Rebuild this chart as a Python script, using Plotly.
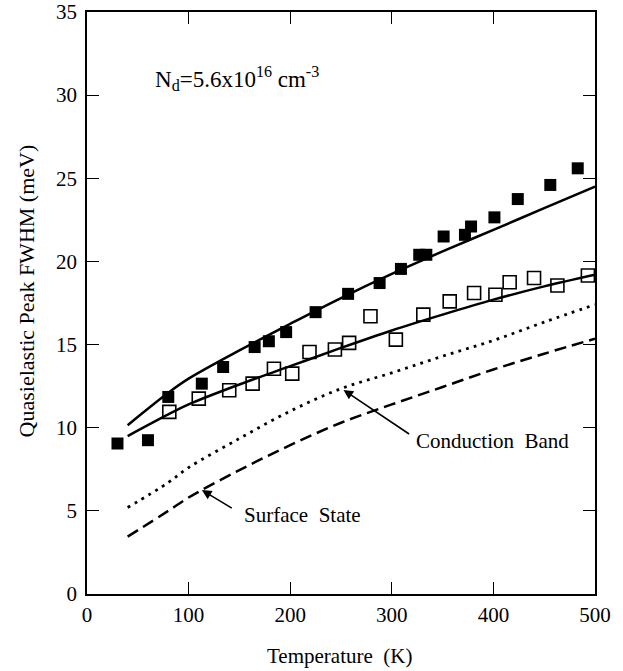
import plotly.graph_objects as go

# Measured quasielastic peak widths
t_filled = [30, 60, 80, 113, 134, 165, 179, 196, 225, 257, 288, 309, 327, 334, 351,
            372, 378, 401, 424, 456, 483]
w_filled = [9.05, 9.25, 11.85, 12.65, 13.65, 14.85, 15.2, 15.75, 16.95, 18.05, 18.7,
            19.55, 20.4, 20.4, 21.5, 21.6, 22.1, 22.65, 23.75, 24.6, 25.6]

t_open = [81, 110, 140, 163, 184, 202, 219, 244, 258, 279, 304, 331, 357, 381, 402,
          416, 440, 463, 493]
w_open = [10.95, 11.75, 12.25, 12.65, 13.55, 13.25, 14.55, 14.7, 15.1, 16.7, 15.3,
          16.8, 17.6, 18.1, 18.0, 18.75, 19.0, 18.55, 19.15]

# Model curves
t_curve = [40, 80, 100, 150, 200, 250, 300, 350, 400, 450, 500]
w_upper = [10.15, 12.1, 12.95, 14.65, 16.25, 17.8, 19.25, 20.6, 21.9, 23.2, 24.5]
w_lower = [9.5, 10.8, 11.4, 12.6, 13.7, 14.8, 15.85, 16.8, 17.7, 18.5, 19.2]
w_cond = [5.2, 6.7, 7.6, 9.35, 11.0, 12.35, 13.3, 14.3, 15.25, 16.35, 17.4]
w_surf = [3.45, 5.0, 5.8, 7.45, 8.95, 10.3, 11.4, 12.45, 13.5, 14.45, 15.35]

x_ticks = [0, 100, 200, 300, 400, 500]
y_ticks = [0, 5, 10, 15, 20, 25, 30, 35]

serif = "Liberation Serif"
tick_font = dict(family=serif, size=21, color="black")

fig = go.Figure()
fig.add_trace(go.Scatter(x=t_curve, y=w_upper, mode="lines", line_shape="spline",
                         line=dict(color="black", width=2.5)))
fig.add_trace(go.Scatter(x=t_curve, y=w_lower, mode="lines", line_shape="spline",
                         line=dict(color="black", width=2.5)))
fig.add_trace(go.Scatter(x=t_curve, y=w_cond, mode="lines", line_shape="spline",
                         line=dict(color="black", width=2.8, dash="2.8px,5.2px")))
fig.add_trace(go.Scatter(x=t_curve, y=w_surf, mode="lines", line_shape="spline",
                         line=dict(color="black", width=2.5, dash="12px,6px")))
fig.add_trace(go.Scatter(x=t_filled, y=w_filled, mode="markers",
                         marker=dict(symbol="square", size=12, color="black")))
fig.add_trace(go.Scatter(x=t_open, y=w_open, mode="markers",
                         marker=dict(symbol="square-open", size=13, color="black",
                                     line=dict(width=1.6))))

axis_common = dict(
    showline=True, linecolor="black", linewidth=1.5, mirror="ticks",
    ticks="inside", ticklen=12, tickwidth=1.3, tickcolor="black",
    showgrid=False, zeroline=False, automargin=False,
    tickfont=tick_font,
)

fig.update_xaxes(range=[0, 500], tickvals=x_ticks, ticktext=[str(v) for v in x_ticks],
                 ticklabelstandoff=1, **axis_common)
fig.update_yaxes(range=[0, 35], tickvals=y_ticks, ticktext=[str(v) for v in y_ticks],
                 ticklabelstandoff=4, **axis_common)

# Axis titles
fig.add_annotation(x=0.498, y=-0.1065, xref="paper", yref="paper",
                   xanchor="center", yanchor="middle", showarrow=False,
                   text="Temperature  (K)", font=dict(family=serif, size=21, color="black"))
fig.add_annotation(x=-0.12, y=0.52, xref="paper", yref="paper", textangle=-90,
                   xanchor="center", yanchor="middle", showarrow=False,
                   text="Quasielastic Peak FWHM (meV)",
                   font=dict(family=serif, size=22, color="black"))

ann_font = dict(family=serif, size=21, color="black")
fig.add_annotation(x=65, y=31.0, xanchor="left", yanchor="middle", showarrow=False,
                   text="N<sub>d</sub>=5.6x10<sup>16</sup> cm<sup>-3</sup>",
                   font=dict(family=serif, size=23, color="black"))
fig.add_annotation(x=321.5, y=9.2, xanchor="left", yanchor="middle", showarrow=False,
                   text="Conduction  Band", font=ann_font)
fig.add_annotation(x=153, y=4.75, xanchor="left", yanchor="middle", showarrow=False,
                   text="Surface  State", font=ann_font)
fig.add_annotation(x=252.5, y=12.27, ax=318.5, ay=9.56, axref="x", ayref="y",
                   text="", showarrow=True, arrowhead=2, arrowsize=1.2,
                   arrowwidth=1.6, arrowcolor="black")
fig.add_annotation(x=113.1, y=6.25, ax=144, ay=5.11, axref="x", ayref="y",
                   text="", showarrow=True, arrowhead=2, arrowsize=1.2,
                   arrowwidth=1.6, arrowcolor="black")

fig.update_layout(
    width=623, height=671,
    margin=dict(l=87, r=28, t=12, b=77),
    paper_bgcolor="white", plot_bgcolor="white",
    showlegend=False,
)

fig.write_html("out.html")
